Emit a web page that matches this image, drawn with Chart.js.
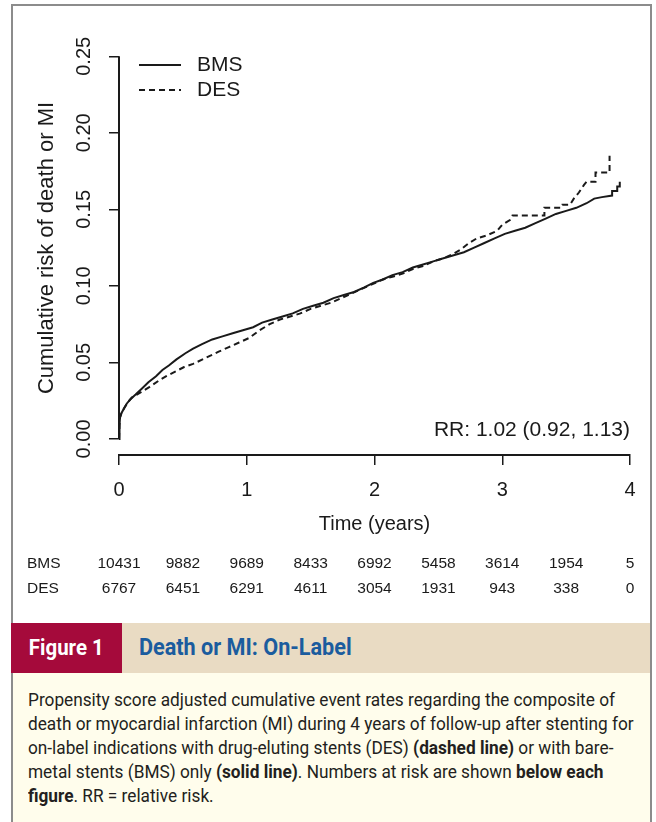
<!DOCTYPE html>
<html>
<head>
<meta charset="utf-8">
<script src="https://cdn.jsdelivr.net/npm/chart.js@4.4.0/dist/chart.umd.min.js"></script>
<style>
  body { margin: 0; width: 656px; height: 822px; background: #fff; position: relative; overflow: hidden; }
  .frame { position: absolute; left: 11px; top: 4px; width: 637px; height: 840px; border: 2px solid #8c8c8c; }
  .chart-box { position: absolute; left: 0; top: 0; width: 656px; height: 610px; }
  .band { position: absolute; left: 13px; top: 623px; width: 637px; height: 50px; background: #e9dbc3; }
  .fig-no { position: absolute; left: 11px; top: 623px; width: 111px; height: 50px; background: #a50a3b; color: #fff;
            font: bold 22px Roboto, sans-serif; line-height: 50px; text-align: center; }
  .fig-no span { display: inline-block; transform: scaleX(0.93); transform-origin: 50% 50%; }
  .fig-title { position: absolute; left: 139px; top: 623px; color: #1b5c9e; font: bold 23px Roboto, sans-serif; line-height: 50px; }
  .fig-title span { display: inline-block; transform: scaleX(0.94); transform-origin: 0 50%; }
  .note { position: absolute; left: 13px; top: 673px; width: 637px; height: 170px; background: #fffdec; }
  .caption { position: absolute; left: 28px; font-family: Roboto, sans-serif; font-size: 18px; line-height: 24px;
             color: #231f20; white-space: nowrap; transform-origin: 0 0; }
</style>
</head>
<body>
<div class="frame"></div>
<div class="chart-box"><canvas id="risk"></canvas></div>
<div class="band"></div>
<div class="fig-no"><span>Figure 1</span></div>
<div class="fig-title"><span>Death or MI: On-Label</span></div>
<div class="note"></div>
<div class="caption" style="top:688px">Propensity score adjusted cumulative event rates regarding the composite of</div>
<div class="caption" style="top:712px">death or myocardial infarction (MI) during 4 years of follow-up after stenting for</div>
<div class="caption" style="top:736px">on-label indications with drug-eluting stents (DES) <b>(dashed line)</b> or with bare-</div>
<div class="caption" style="top:760px">metal stents (BMS) only <b>(solid line)</b>. Numbers at risk are shown <b>below each</b></div>
<div class="caption" style="top:784px"><b>figure</b>. RR = relative risk.</div>

<script>
// Axis ticks
const years = [0, 1, 2, 3, 4];
const riskTicks = [0, 0.05, 0.10, 0.15, 0.20, 0.25];

// Cumulative risk, bare-metal stents (time in years, risk); repeated times mark a step
const bmsTime = [0, 0.004, 0.008, 0.02, 0.04, 0.06, 0.09, 0.13, 0.18, 0.23, 0.29, 0.34, 0.39, 0.45, 0.52, 0.58,
  0.65, 0.73, 0.81, 0.89, 0.97, 1.05, 1.12, 1.20, 1.28, 1.36, 1.44, 1.52, 1.60, 1.68, 1.76, 1.84, 1.92, 1.99,
  2.06, 2.14, 2.22, 2.30, 2.38, 2.46, 2.54, 2.62, 2.70, 2.78, 2.86, 2.94, 3.02, 3.10, 3.18, 3.26, 3.34, 3.42,
  3.50, 3.58, 3.66, 3.72, 3.78, 3.86, 3.86, 3.90, 3.90, 3.92, 3.92];
const bmsRisk = [0, 0.009, 0.014, 0.017, 0.020, 0.023, 0.026, 0.029, 0.033, 0.037, 0.041, 0.045, 0.048, 0.052, 0.056, 0.059,
  0.062, 0.065, 0.067, 0.069, 0.071, 0.073, 0.076, 0.078, 0.080, 0.082, 0.085, 0.087, 0.089, 0.092, 0.094, 0.096, 0.099, 0.102,
  0.104, 0.107, 0.109, 0.112, 0.114, 0.116, 0.118, 0.120, 0.122, 0.125, 0.128, 0.131, 0.134, 0.136, 0.138, 0.141, 0.144, 0.147,
  0.149, 0.151, 0.154, 0.157, 0.158, 0.159, 0.162, 0.162, 0.165, 0.165, 0.168];

// Cumulative risk, drug-eluting stents
const desTime = [0, 0.004, 0.008, 0.02, 0.04, 0.07, 0.10, 0.14, 0.18, 0.24, 0.31, 0.37, 0.44, 0.51, 0.58, 0.68,
  0.78, 0.86, 0.94, 1.02, 1.10, 1.18, 1.26, 1.34, 1.42, 1.50, 1.58, 1.66, 1.74, 1.82, 1.90, 1.98, 2.06, 2.14,
  2.22, 2.30, 2.38, 2.46, 2.54, 2.62, 2.68, 2.74, 2.80, 2.88, 2.96, 3.00, 3.06, 3.08, 3.33, 3.33, 3.46, 3.47,
  3.53, 3.56, 3.60, 3.64, 3.66, 3.73, 3.73, 3.84, 3.84];
const desRisk = [0, 0.009, 0.014, 0.017, 0.020, 0.024, 0.027, 0.029, 0.031, 0.034, 0.038, 0.041, 0.044, 0.047, 0.049, 0.053,
  0.057, 0.060, 0.063, 0.066, 0.071, 0.075, 0.078, 0.080, 0.082, 0.085, 0.087, 0.089, 0.092, 0.095, 0.098, 0.101, 0.104, 0.106,
  0.108, 0.111, 0.113, 0.116, 0.118, 0.121, 0.124, 0.128, 0.131, 0.133, 0.136, 0.140, 0.143, 0.146, 0.146, 0.151, 0.151, 0.153,
  0.153, 0.157, 0.161, 0.166, 0.168, 0.168, 0.174, 0.174, 0.185];

// Numbers at risk
const atRiskTime = [0, 0.5, 1, 1.5, 2, 2.5, 3, 3.5, 4];
const bmsAtRisk = [10431, 9882, 9689, 8433, 6992, 5458, 3614, 1954, 5];
const desAtRisk = [6767, 6451, 6291, 4611, 3054, 1931, 943, 338, 0];

const rrText = 'RR: 1.02 (0.92, 1.13)';

const ink = '#1a1a1a';
const sans = '"Liberation Sans", Arial, sans-serif';
Chart.defaults.font.family = sans;
Chart.defaults.color = ink;

// R-style extras: short y axis line, rotated tick labels, legend, RR and risk table
const survivalExtras = {
    id: 'survivalExtras',
    afterDraw(chart) {
        const { ctx, scales: { x, y } } = chart;
        ctx.save();
        ctx.strokeStyle = ink;
        ctx.fillStyle = ink;

        // y axis line only between first and last tick
        const axisX = y.right;
        ctx.lineWidth = 2;
        ctx.beginPath();
        ctx.moveTo(axisX, y.getPixelForValue(riskTicks[0]));
        ctx.lineTo(axisX, y.getPixelForValue(riskTicks[riskTicks.length - 1]));
        ctx.stroke();

        // y tick labels, rotated
        ctx.font = '20px ' + sans;
        ctx.textAlign = 'center';
        ctx.textBaseline = 'middle';
        riskTicks.forEach(v => {
            ctx.save();
            ctx.translate(84, y.getPixelForValue(v));
            ctx.rotate(-Math.PI / 2);
            ctx.fillText(v.toFixed(2), 0, 0);
            ctx.restore();
        });

        // legend
        ctx.lineWidth = 2;
        ctx.beginPath();
        ctx.moveTo(139, 65);
        ctx.lineTo(181, 65);
        ctx.stroke();
        ctx.setLineDash([6, 4]);
        ctx.beginPath();
        ctx.moveTo(139, 90);
        ctx.lineTo(181, 90);
        ctx.stroke();
        ctx.setLineDash([]);
        ctx.font = '21px ' + sans;
        ctx.textAlign = 'left';
        ctx.fillText('BMS', 197, 65);
        ctx.fillText('DES', 197, 90);

        // relative risk
        ctx.textAlign = 'right';
        ctx.fillText(rrText, x.getPixelForValue(4), 430);

        // numbers at risk
        ctx.font = '15.5px ' + sans;
        ctx.textAlign = 'left';
        ctx.fillText('BMS', 27, 564);
        ctx.fillText('DES', 27, 589);
        ctx.textAlign = 'center';
        atRiskTime.forEach((t, i) => {
            const px = x.getPixelForValue(t);
            ctx.fillText(String(bmsAtRisk[i]), px, 564);
            ctx.fillText(String(desAtRisk[i]), px, 589);
        });
        ctx.restore();
    }
};

// Create cumulative risk chart
const ctxRisk = document.getElementById('risk').getContext('2d');
const riskChart = new Chart(ctxRisk, {
    type: 'line',
    data: {
        datasets: [
            {
                label: 'BMS',
                data: bmsTime.map((t, i) => ({ x: t, y: bmsRisk[i] })),
                borderColor: ink,
                borderWidth: 2,
                pointRadius: 0,
                tension: 0,
                fill: false
            },
            {
                label: 'DES',
                data: desTime.map((t, i) => ({ x: t, y: desRisk[i] })),
                borderColor: ink,
                borderWidth: 2,
                borderDash: [6, 4],
                pointRadius: 0,
                tension: 0,
                fill: false
            }
        ]
    },
    options: {
        responsive: true,
        maintainAspectRatio: false,
        animation: false,
        layout: {
            padding: { left: 0, right: 26, top: 41, bottom: 74 }
        },
        plugins: {
            legend: { display: false },
            tooltip: { enabled: false }
        },
        scales: {
            x: {
                type: 'linear',
                min: 0,
                max: 4,
                afterBuildTicks: s => { s.ticks = years.map(v => ({ value: v })); },
                afterFit: s => { s.height = 81; },
                border: { display: true, color: ink, width: 2 },
                grid: { drawOnChartArea: false, drawTicks: true, tickLength: 10, color: ink, lineWidth: 1.5 },
                ticks: { padding: 13, font: { size: 20 }, color: ink },
                title: {
                    display: true,
                    text: 'Time (years)',
                    font: { size: 20 },
                    color: ink,
                    padding: 0
                }
            },
            y: {
                type: 'linear',
                min: -0.0105,
                max: 0.26,
                afterBuildTicks: s => { s.ticks = riskTicks.map(v => ({ value: v })); },
                afterFit: s => { s.width = 119; },
                border: { display: false },
                grid: { drawOnChartArea: false, drawTicks: true, tickLength: 10, color: ink, lineWidth: 1.5 },
                ticks: { display: false },
                title: {
                    display: true,
                    text: 'Cumulative risk of death or MI',
                    font: { size: 22 },
                    color: ink,
                    padding: { top: 34, bottom: 0 }
                }
            }
        }
    },
    plugins: [survivalExtras]
});

// Fit caption lines to the column width
const captionLines = document.querySelectorAll('.caption');
const firstWidth = captionLines[0].getBoundingClientRect().width;
const squeeze = 587 / firstWidth;
captionLines.forEach(line => { line.style.transform = `scaleX(${squeeze})`; });
</script>
</body>
</html>
